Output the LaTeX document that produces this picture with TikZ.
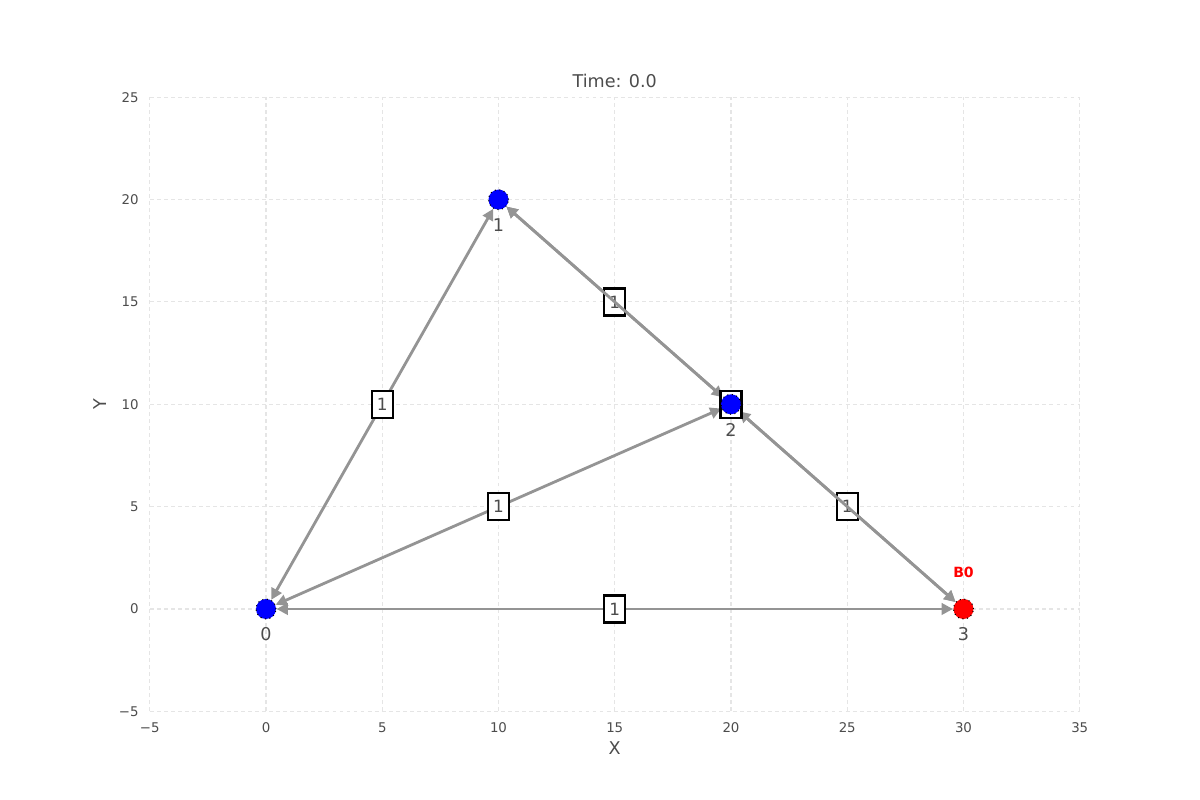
\documentclass[tikz,border=0pt]{standalone}
\usepackage{fontspec}
\setmainfont{DejaVu Sans}
\usetikzlibrary{positioning,arrows.meta}
\pgfdeclarelayer{background}
\pgfsetlayers{background,main}
\definecolor{edgegray}{gray}{0.58}
\definecolor{gridgray}{gray}{0.9}
\definecolor{textgray}{gray}{0.3}
\tikzset{
  vertex/.style={circle, fill=blue, draw=black, densely dotted, line width=0.3pt,
    minimum size=0.2cm, inner sep=0pt},
  target/.style={vertex, fill=red},
  edge/.style={draw=edgegray, line width=0.8pt,
    {Triangle[length=3.2pt,width=3.2pt]}-{Triangle[length=3.2pt,width=3.2pt]}},
  weight/.style={draw=black, fill=white, line width=0.7pt, text=textgray,
    minimum width=0.21cm, minimum height=0.27cm, inner sep=0pt,
    font=\fontsize{4.8}{5}\selectfont},
  vlabel/.style={text=textgray, inner sep=1pt, font=\fontsize{5}{5}\selectfont},
  ticklabel/.style={text=textgray, inner sep=0pt, font=\fontsize{3.8}{4}\selectfont},
  axislabel/.style={text=textgray, inner sep=0pt, font=\fontsize{5}{5}\selectfont},
  gridline/.style={draw=gridgray, line width=0.3pt, dash pattern=on 1.1pt off 0.9pt}
}
\begin{document}
\begin{tikzpicture}
  \useasboundingbox (0,0) rectangle (12,8);
  \begin{scope}[shift={(2.66,1.91)}, x=0.2325cm, y=0.2047cm]
    % draw the dashed grid
    \begin{pgfonlayer}{background}
      \foreach \x in {-5,0,...,35}
        \draw[gridline] (\x,-5) -- (\x,25);
      \foreach \y in {-5,0,...,25}
        \draw[gridline] (-5,\y) -- (35,\y);
    \end{pgfonlayer}
    % tick labels
    \foreach \x/\t in {-5/−5,0/0,5/5,10/10,15/15,20/20,25/25,30/30,35/35}
      \node[ticklabel] (tx\x) at (\x,-5.8) {\t};
    \foreach \y/\t in {-5/−5,0/0,5/5,10/10,15/15,20/20,25/25}
      \node[ticklabel, anchor=east] (ty\y) at (-5.45,\y) {\t};
    % title and axis labels
    \node[axislabel] (title) at (15,25.8) {Time: 0.0};
    \node[axislabel] (xlab) at (15,-6.8) {X};
    \node[axislabel, rotate=90] (ylab) at (-7.15,10) {Y};
    % draw the vertices
    \node[vertex] (n0) at (0,0) {};
    \node[vertex] (n1) at (10,20) {};
    \node[vertex] (n2) at (20,10) {};
    \node[target] (n3) at (30,0) {};
    \node[vlabel, below=0.04cm of n0] (l0) {0};
    \node[vlabel, below=0.04cm of n1] (l1) {1};
    \node[vlabel, below=0.04cm of n2] (l2) {2};
    \node[vlabel, below=0.04cm of n3] (l3) {3};
    \node[text=red, inner sep=0pt, font=\fontsize{4}{4}\selectfont\bfseries,
      above=0.2cm of n3] (b0) {B0};
    % draw the edges with their weights
    \begin{pgfonlayer}{background}
      \draw[edge] (n0) -- (n1) node[weight, midway] (w01) {1};
      \draw[edge] (n0) -- (n2) node[weight, midway] (w02) {1};
      \draw[edge] (n0) -- (n3) node[weight, midway] (w03) {1};
      \draw[edge] (n1) -- (n2) node[weight, midway] (w12) {1};
      \draw[edge] (n2) -- (n3) node[weight, midway] (w23) {1};
      \draw[edge] (n1) -- (n3) node[weight, midway] (w13) {1};
    \end{pgfonlayer}
  \end{scope}
\end{tikzpicture}
\end{document}
